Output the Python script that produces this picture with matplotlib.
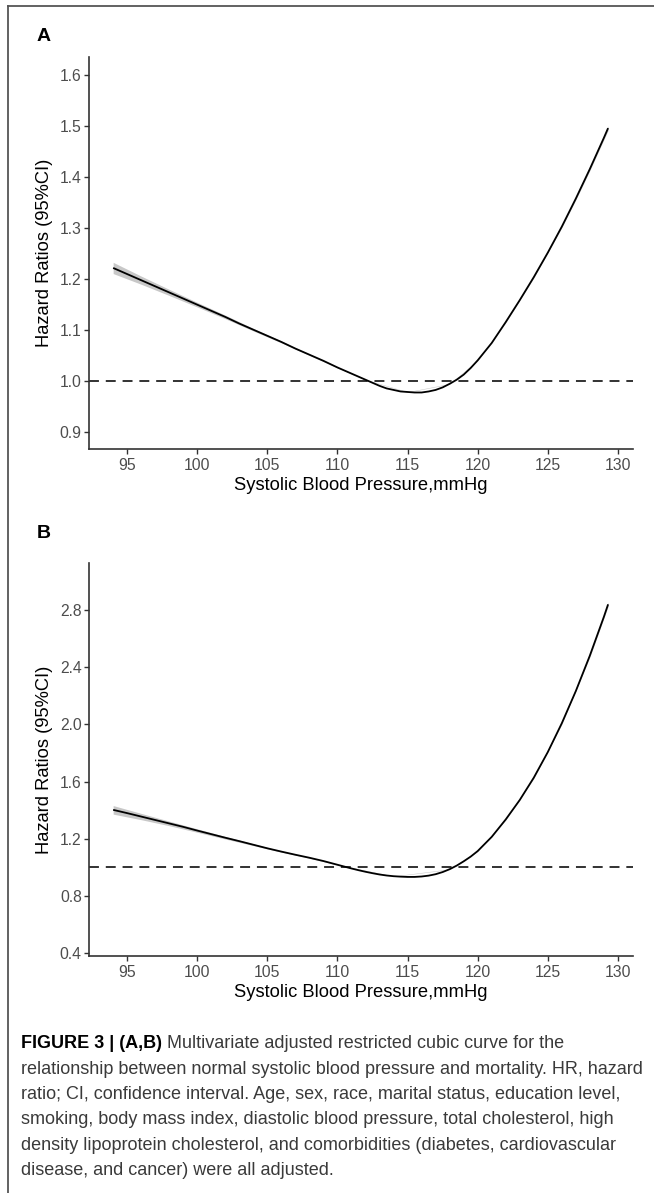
import matplotlib
matplotlib.use("Agg")
import matplotlib.pyplot as plt
from matplotlib.lines import Line2D

plt.rcParams['font.family'] = ['Liberation Sans', 'DejaVu Sans']

# ---------------- data ----------------
sbp_a = [94, 95, 96, 97, 98, 99, 100, 101, 102, 103, 104, 105, 106, 107, 108, 109, 110,
         111, 112, 112.5, 113, 113.5, 114, 114.5, 115, 115.5, 116, 116.5, 117, 117.5,
         118, 118.5, 119, 119.5, 120, 121, 122, 123, 124, 125, 126, 127, 128, 129, 129.3]
hr_a = [1.222, 1.210, 1.198, 1.186, 1.174, 1.162, 1.150, 1.138, 1.126, 1.113, 1.101,
        1.089, 1.077, 1.064, 1.052, 1.040, 1.027, 1.015, 1.003, 0.997, 0.991, 0.986,
        0.983, 0.980, 0.979, 0.978, 0.978, 0.980, 0.983, 0.988, 0.995, 1.003, 1.013,
        1.026, 1.041, 1.075, 1.116, 1.159, 1.204, 1.252, 1.303, 1.358, 1.416, 1.477, 1.496]
ci_sbp_a = [94, 96, 98, 100, 102, 104, 106, 108, 110, 112, 115, 118, 120, 122, 124, 126, 127, 128, 129, 129.3]
ci_lo_a = [1.211, 1.190, 1.168, 1.1455, 1.1225, 1.0985, 1.0752, 1.0508, 1.0262, 1.0025, 0.9785,
           0.9945, 1.0402, 1.1150, 1.2025, 1.3010, 1.3555, 1.4130, 1.4735, 1.4915]
ci_hi_a = [1.233, 1.206, 1.180, 1.1545, 1.1295, 1.1035, 1.0788, 1.0532, 1.0278, 1.0035, 0.9795,
           0.9955, 1.0418, 1.1170, 1.2055, 1.3050, 1.3605, 1.4190, 1.4805, 1.5005]

sbp_b = [94, 95, 96, 97, 98, 99, 100, 101, 102, 103, 104, 105, 106, 107, 108, 109, 110,
         111, 111.5, 112, 112.5, 113, 113.5, 114, 114.5, 115, 115.5, 116, 116.5, 117, 117.5,
         118, 118.5, 119, 119.5, 120, 121, 122, 123, 124, 125, 126, 127, 128, 129, 129.3]
hr_b = [1.403, 1.380, 1.356, 1.332, 1.308, 1.284, 1.258, 1.233, 1.208, 1.184, 1.159,
        1.134, 1.111, 1.089, 1.068, 1.045, 1.019, 0.993, 0.981, 0.970, 0.960, 0.951,
        0.944, 0.939, 0.936, 0.934, 0.934, 0.937, 0.943, 0.953, 0.968, 0.988, 1.013,
        1.043, 1.076, 1.115, 1.214, 1.336, 1.472, 1.628, 1.807, 2.009, 2.234, 2.482, 2.753, 2.840]
ci_sbp_b = [94, 96, 98, 100, 102, 104, 106, 108, 110, 114, 118, 120, 122, 124, 126, 128, 129.3]
ci_lo_b = [1.373, 1.334, 1.292, 1.246, 1.199, 1.153, 1.107, 1.065, 1.017, 0.9375, 0.986,
           1.112, 1.332, 1.622, 2.001, 2.471, 2.825]
ci_hi_b = [1.433, 1.378, 1.324, 1.270, 1.217, 1.165, 1.115, 1.071, 1.021, 0.9405, 0.990,
           1.118, 1.340, 1.634, 2.017, 2.493, 2.855]

xticks = [95, 100, 105, 110, 115, 120, 125, 130]
yticks_a = [0.9, 1.0, 1.1, 1.2, 1.3, 1.4, 1.5, 1.6]
yticks_b = [0.4, 0.8, 1.2, 1.6, 2.0, 2.4, 2.8]
ylabels_a = ["0.9", "1.0", "1.1", "1.2", "1.3", "1.4", "1.5", "1.6"]
ylabels_b = ["0.4", "0.8", "1.2", "1.6", "2.0", "2.4", "2.8"]

xlabel = "Systolic Blood Pressure,mmHg"
ylabel = "Hazard Ratios (95%CI)"
caption_bold = "FIGURE 3 | (A,B)"
caption_lines = [
    " Multivariate adjusted restricted cubic curve for the",
    "relationship between normal systolic blood pressure and mortality. HR, hazard",
    "ratio; CI, confidence interval. Age, sex, race, marital status, education level,",
    "smoking, body mass index, diastolic blood pressure, total cholesterol, high",
    "density lipoprotein cholesterol, and comorbidities (diabetes, cardiovascular",
    "disease, and cancer) were all adjusted.",
]

# ---------------- figure ----------------
W, H = 654, 1193
fig = plt.figure(figsize=(W / 100, H / 100), dpi=100)
fig.patch.set_facecolor('white')

def px2fig(x, y):
    return x / W, 1 - y / H

spine_c = '#333333'
tick_c = '#4D4D4D'

def make_panel(rect, x, y, cx, lo, hi, yticks, ylabs, ylim, letter, letter_y):
    ax = fig.add_axes(rect)
    ax.fill_between(cx, lo, hi, color='#c8c8c8', lw=0, zorder=1)
    ax.plot(x, y, color='black', lw=1.3, zorder=3, solid_capstyle='butt',
            solid_joinstyle='round')
    ax.axhline(1.0, color='#222222', lw=1.3, ls=(0, (5.5, 3.8)), zorder=2)
    ax.set_xlim(92.26, 131.04)
    ax.set_ylim(*ylim)
    ax.set_xticks(xticks)
    ax.set_xticklabels([str(t) for t in xticks])
    ax.set_yticks(yticks)
    ax.set_yticklabels(ylabs)
    for s in ['top', 'right']:
        ax.spines[s].set_visible(False)
    for s in ['left', 'bottom']:
        ax.spines[s].set_color(spine_c)
        ax.spines[s].set_linewidth(1.2)
    ax.tick_params(axis='both', colors=spine_c, labelcolor=tick_c, labelsize=11.3,
                   length=3.5, width=1.0, direction='out')
    ax.tick_params(axis='x', pad=2.5)
    ax.tick_params(axis='y', pad=1.5)
    ax.set_xlabel(xlabel, fontsize=13.2, color='black')
    ax.set_ylabel(ylabel, fontsize=13.2, color='black')
    ax.xaxis.set_label_coords(0.5, -0.07)
    ax.yaxis.set_label_coords(-0.066, 0.5)
    fx, fy = px2fig(37.0, letter_y)
    fig.text(fx, fy, letter, fontsize=14, fontweight='bold', ha='left', va='center')
    return ax

make_panel([88.75 / W, 1 - 449.3 / H, (632.5 - 88.75) / W, (449.3 - 57.3) / H],
           sbp_a, hr_a, ci_sbp_a, ci_lo_a, ci_hi_a, yticks_a, ylabels_a,
           (0.8667, 1.6347), 'A', 36.7)
make_panel([88.75 / W, 1 - 956.3 / H, (632.5 - 88.75) / W, (956.3 - 562.7) / H],
           sbp_b, hr_b, ci_sbp_b, ci_lo_b, ci_hi_b, yticks_b, ylabels_b,
           (0.379, 3.131), 'B', 533)

# frame lines
fig.add_artist(Line2D([7.5 / W, 7.5 / W], [1 - 6 / H, 0], transform=fig.transFigure,
                      color='#555555', lw=1.3))
fig.add_artist(Line2D([7.5 / W, 1.0], [1 - 6 / H, 1 - 6 / H], transform=fig.transFigure,
                      color='#555555', lw=1.3))

# caption
renderer = fig.canvas.get_renderer()
probe = fig.text(0, 0, caption_lines[1], fontsize=12)
w = probe.get_window_extent(renderer).width
probe.remove()
cap_size = 12 * 621.0 / w
cap_x = 21.0
line0 = 1044.0
step = 25.3
cap_color = '#3a3a3a'
t0 = fig.text(cap_x / W, 1 - line0 / H, caption_bold, fontsize=cap_size, fontweight='bold',
              color='black', ha='left', va='center')
bw = t0.get_window_extent(renderer).width
fig.text((cap_x + bw) / W, 1 - line0 / H, caption_lines[0], fontsize=cap_size,
         color=cap_color, ha='left', va='center')
for i, line in enumerate(caption_lines[1:], start=1):
    fig.text(cap_x / W, 1 - (line0 + step * i) / H, line, fontsize=cap_size,
             color=cap_color, ha='left', va='center')

fig.savefig('out.png', dpi=100, facecolor='white')
